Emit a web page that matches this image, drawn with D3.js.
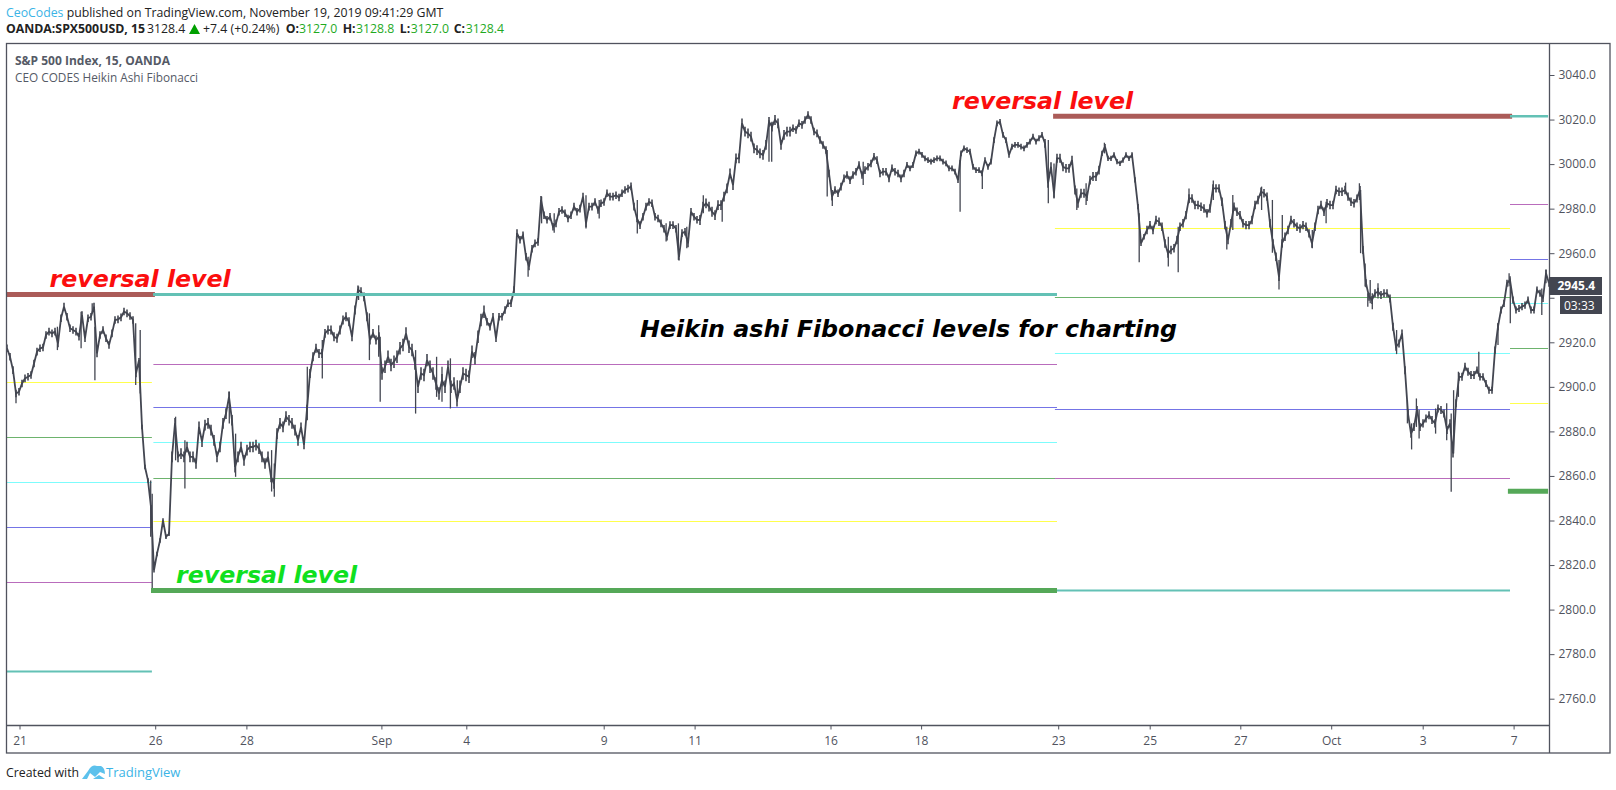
<!DOCTYPE html>
<html><head><meta charset="utf-8">
<script src="https://cdn.jsdelivr.net/npm/d3@7"></script>
<style>html,body{margin:0;padding:0;background:#fff;overflow:hidden}svg{display:block}</style>
</head><body><div id="chart"></div>
<script>
// Price samples, one every bar-step
const closeA = [2917.3,2913.5,2907.5,2897,2897.8,2901.5,2903.8,2904.5,2905.3,2910.5,2915.8,2917.3,2917.7,2923.3,2924.8,2924,2924.8,2919.5,2930.8,2936,2931.5,2926.3,2925.5,2924.8,2922.5,2932.2,2921.8,2930.8,2931.5,2936,2915,2923.3,2925.5,2921.8,2918.8,2924,2930,2930.3,2931.2,2933.8,2933,2931.8,2930,2906,2912,2882,2864,2858,2846,2817.7,2825,2831,2840,2832.7,2834,2868.6,2883.6,2868.6,2870,2868.6,2873,2868.6,2868.6,2865.6,2882,2875.4,2882.8,2883.6,2880.6,2876,2868.6,2873,2883.6,2888,2895.5,2885,2864,2868.6,2873,2867,2871.6,2873,2873,2873.8,2872.3,2868.6,2865.6,2868.6,2859.6,2856.6,2879,2883.6,2882,2886.6,2885,2883.6,2880.6,2876];
const closeB = [2882,2874,2890,2906,2913.5,2917.3,2915,2915,2924,2925.5,2925.5,2922.5,2921.8,2925.5,2930,2931.5,2929.2,2922.5,2934.5,2943.5,2942.7,2940.4,2931.5,2921,2924,2921,2922.5,2906,2909,2913.5,2909.8,2911.3,2913.5,2917.3,2918.8,2924,2918,2916.5,2910.5,2900,2906,2905.3,2912,2909,2906,2901.5,2897,2903,2900,2909,2900,2901.5,2894,2900,2906,2905.3,2904.5,2915.8,2912.8,2922.5,2930,2933.7,2929.2,2927,2931.5,2921.8,2931.5,2931.5,2934.5,2937.5,2937.5,2943.5,2969,2966,2968,2958.4,2954,2962,2964.4,2965,2984,2977,2975,2976.4,2971.9,2973.4,2978.6,2979.4,2977.9,2975.6,2977,2980.9,2978.6,2980,2985.4,2973.4,2980.9,2980.9,2983,2979.4,2982.4,2983,2986.9,2985.4,2985.4,2986,2985,2986.9,2988.4,2989,2990,2980.9,2975.6,2972.6,2976.4,2980.9,2983,2982.4,2976.4,2975.6,2973.4,2971,2967.4,2972.6,2972.6,2971,2958.4,2969,2969.6,2964.4,2978.6,2976.4,2975];
const closeC = [2974.9,2980.9,2982.4,2980.9,2978.6,2977.1,2981.6,2981.6,2985.4,2989.1,2995.8,2990.6,3002.6,3002.6,3018.3,3014.6,3013.8,3012.3,3007.1,3006.3,3004.8,3004.1,3008.6,3019,3016.8,3019.8,3018.3,3008.6,3013.1,3014.6,3014.6,3016.1,3015.3,3018.3,3017.6,3019.8,3022,3019.8,3014.6,3013.8,3010.8,3008.6,3006.3,2995.8,2985.4,2988.4,2986.9,2989.9,2993.6,2995.1,2992.8,2995.1,2996.6,2999.6,2995.1,2997.3,2998.8,3000.3,3003.3,3001.8,2995.8,2996.6,2996.6,2993.6,2998.1,2996.6,2995.8,2993.6,2995.8,2999.6,2998.1,2999.6,3004.8,3005.6,3004.1,3002.6,3001.8,3001.1,3001.8,3002.6,3002.6,3001.1,3000.3,2998.1,2998.1,2996.6,2992.8,3004.8,3007.1,3006.3,3005.6,2998.8,2997.3,2997.3,2995.8,3001.8,2998.8,3001.1,3010.8,3018.3,3019,3013.1,3010.8,3004.1,3007.8,3008.6,3008.6,3007.8,3007.1,3008.6,3010.1,3012.3,3010.1,3011.6,3013.1,3009.3,2991.4,2998.8,2986.9,3002.6,3002.6,2998.8,2998.1,2998.1,3001.8,2988.4,2982.4,2986.9,2986.9,2985.4,2992.8,2994.4,2994.4,2997.3];
const closeD = [3004.8,3007.8,3002.6,3002.6,3004.1,3001.1,3000.3,3001.8,3004.1,3002.6,3004.1,2992.9,2980.9,2964.4,2967.4,2970.4,2972.6,2970.4,2974.9,2974.1,2971.9,2964.4,2959.9,2961.4,2962.2,2965.9,2971.9,2973.4,2977.1,2984.6,2984.6,2981.6,2981.6,2980.9,2980.1,2977.9,2980.1,2989.1,2989.1,2989.1,2983.1,2972.6,2965.9,2973.4,2980.9,2978.6,2977.1,2973.4,2972.6,2972.6,2974.9,2981.6,2983.9,2987.6,2986.9,2985.4,2973.4,2964.4,2958.4,2949.4,2964.4,2967.4,2970.4,2974.9,2973.4,2971.9,2971.1,2972.6,2971.9,2968.9,2964.4,2971.9,2979.4,2981.6,2978.6,2982.4,2981.6,2981.6,2988.4,2987.6,2987.6,2988.4,2985.4];
const closeE = [2983.1,2982.4,2984.6,2988.4,2961.4,2946.5,2940.5,2939,2942,2942.7,2941.2,2942,2942,2939.7,2927,2918,2919.5,2924,2907.5,2888,2879,2882,2889.6,2882,2883.6,2885.8,2887.3,2885.1,2883.6,2890.3,2889.6,2888,2880.6,2883.6,2870.1,2892.6,2904.5,2904.5,2909,2906.8,2905.3,2905.3,2907.5,2904.5,2904.5,2901.5,2898.5,2898.5,2916.5,2927,2934.5,2937.5,2946.5,2948,2939,2934.5,2935.2,2936,2936.7,2939,2934.5,2934.5,2943.5,2942,2939.7,2951,2946.5];
const segmentStarts = [0,98,231,365,448];
const lastBar = 514;

// Thickness of the price band by stretch of the chart: from bar, to bar, half-range in price
const bandSpread = [[0,44,1.7],[44,55,1],[55,98,2.4],[98,125,2],[125,160,2.8],[160,231,1.7],[231,262,2.2],[262,300,1.7],[300,346,1.3],[346,365,2],[365,380,1.2],[380,450,1.9],[450,490,1.8],[490,515,1.6]];

// Wicks: bar, high, low
const wicks = [[3,2897,2892.6],[16.8,2927,2916.5],[24.7,2933.7,2917.3],[28.4,2937.5,2933],[29.3,2927,2903],[42.9,2928.5,2900.8],[44.4,2925.5,2897],[47.9,2858,2832.7],[48.4,2852,2809.5],[56.2,2886.6,2867],[59.3,2876,2854.4],[74.1,2897.8,2883.6],[76.2,2879,2859.6],[88.2,2871.6,2853],[89.1,2865.6,2850.7],
[100.1,2909,2885],[105.1,2921,2903.8],[117.2,2945,2939],[120.8,2933,2912],[123.9,2927.7,2913.5],[124.4,2922.5,2893.3],[136.2,2916.5,2888],[143.2,2913.5,2895.5],[145,2909,2893.3],[147.8,2912.8,2890.3],[150.1,2903,2893.3],[173.7,2958.4,2949.4],[178.2,2985.4,2973.4],[182.4,2977.9,2969.2],[193,2986,2971.1],[197.4,2983.9,2975.6],[210.1,2983.9,2968.9],[219.7,2973.4,2965.2],[223.8,2973.4,2957],[226.6,2971.9,2962.2],
[232.1,2986,2977.9],[238.4,2983.1,2974.1],[254,3019.8,3001.1],[254.9,3018.3,3001.1],[273.4,3006.3,2985.4],[275.1,2988.4,2981.2],[285.4,3001.1,2990.6],[317.7,3001.8,2978.6],[325.1,2997.3,2988.8],[347.1,3010.8,2982.4],[349,3000.3,2984.6],[356.6,2989,2979.4],[359.7,2991.4,2981.6],
[365.8,3009.6,3004.8],[377.4,2977.9,2955.9],[387.1,2967.4,2954],[390.4,2971.9,2951.4],[394,2989.1,2982.4],[402.1,2992.6,2983.9],[406.6,2971.9,2961.7],[408.6,2986.1,2970.4],[418.2,2989.9,2979.4],[421.8,2983.9,2960.2],[424,2956.9,2943.7],[425.1,2977.1,2962.9],[435.1,2970.4,2962.2],[439.7,2983.1,2973.4],[446.2,2991.7,2986.9],
[450.8,2991.4,2983.9],[451.2,2988.4,2960],[452.7,2955.4,2945],[453.6,2942,2936],[454.4,2948,2937.5],[455.1,2942,2934.8],[457,2946.5,2939.7],[463.2,2925.5,2914.7],[466.8,2894,2883.6],[468.2,2883.6,2871.9],[469.8,2894.8,2882],[470.7,2889.6,2876.8],[476.2,2890.3,2879],[479.9,2892.6,2876],[481.4,2888,2852.9],[482.2,2898.5,2870.1],[483.8,2906.8,2895.5],[490.6,2915.8,2904.5],[497,2928.5,2918.8],[500.7,2951,2945],[501.1,2945,2928.5],[511.6,2944.2,2932.2],[513,2952.7,2946.5]];

// Fibonacci level segments: start bar, end bar, price levels
const spanA = [0,48.3];
const levelsA = [2902,2877.3,2857.1,2837.3,2812.6,2772.4];
const spanB = [48.8,350];
const levelsB = [2910.1,2890.8,2875.1,2859.3,2840];
const spanC = [349.3,501];
const levelsC = [2971.2,2940.2,2915,2889.9,2859,2808.6];
const spanD = [501,513.7];
const levelsD = [2982,2957.3,2937.5,2917.3,2892.6];
const levelKindA = ["yellow","green","cyan","blue","purple","teal"];
const levelKindB = ["purple","blue","cyan","green","yellow"];
const levelKindC = ["yellow","green","cyan","blue","purple","teal"];
const levelKindD = ["purple","blue","cyan","green","yellow"];
const levelColors = {yellow:"#ffff4d",green:"#6db36d",cyan:"#7dfcfc",blue:"#7474e6",purple:"#b96cbc",teal:"#63c1b5"};
// Heavy levels: start, end, price, colour, weight
const heavy = [
 [0,49.3,2941.5,"#ab5b58",5],
 [48.7,350,2941.5,"#63c1b5",3],
 [48,350,2808.6,"#55a858",5],
 [348.7,501.7,3021.5,"#ab5b58",5],
 [501,513.7,3021.5,"#63c1b5",2.5],
 [500.3,513.7,2853.1,"#55a858",5]
];

const priceTicks = [3040,3020,3000,2980,2960,2940,2920,2900,2880,2860,2840,2820,2800,2780,2760];
const hiddenPriceLabel = 2940; // sits behind the last-price tags in the reference
const timeTickBars = [4.17,49.4,79.8,124.8,153.1,198.9,229.2,274.5,304.7,350.4,380.9,411.1,441.4,471.9,502.2];
const timeTickLabels = ["21","26","28","Sep","4","9","11","16","18","23","25","27","Oct","3","7"];
const lastPrice = 2945.4;

const W=1616,H=790;
const plot={l:7,r:1549,t:43,b:725,outerR:1610,outerB:753};
const x=d3.scaleLinear().domain([0,lastBar]).range([plot.l,plot.r]);
const y=d3.scaleLinear().domain([3040,2760]).range([75,698.7]);
const FONT='"Open Sans","Noto Sans",sans-serif';
const axisCol="#50535e";

const svg=d3.select("#chart").append("svg").attr("width",W).attr("height",H).style("font-family",FONT);
svg.append("defs").append("clipPath").attr("id","clip").append("rect")
 .attr("x",plot.l).attr("y",plot.t).attr("width",plot.r-plot.l).attr("height",plot.b-plot.t);

// levels
const lv=svg.append("g").attr("clip-path","url(#clip)");
[[spanA,levelsA,levelKindA],[spanB,levelsB,levelKindB],[spanC,levelsC,levelKindC],[spanD,levelsD,levelKindD]].forEach(([s,l,k])=>{
  l.forEach((v,i)=>{
    lv.append("line").attr("x1",x(s[0])).attr("x2",x(s[1])).attr("y1",Math.round(y(v))+.5).attr("y2",Math.round(y(v))+.5)
      .attr("stroke",levelColors[k[i]]).attr("stroke-width",k[i]==="teal"?2:1);
  });
});

// price
const pts=[];
[closeA,closeB,closeC,closeD,closeE].forEach((arr,k)=>arr.forEach((v,i)=>pts.push([segmentStarts[k]+i,v])));
const spreadAt=b=>{const s=bandSpread.find(r=>b>=r[0]&&b<r[1]);return s?s[2]:1.5;};
const pg=svg.append("g").attr("clip-path","url(#clip)");
pg.append("path").attr("d",d3.line().x(d=>x(d[0])).y(d=>y(d[1]))(pts))
  .attr("fill","none").attr("stroke","#434651").attr("stroke-width",1.8).attr("stroke-linejoin","miter").attr("stroke-miterlimit",3);
pg.selectAll("line.r").data(pts).join("line").attr("class","r")
  .attr("x1",d=>x(d[0])).attr("x2",d=>x(d[0]))
  .attr("y1",d=>y(d[1]+spreadAt(d[0]))).attr("y2",d=>y(d[1]-spreadAt(d[0])))
  .attr("stroke","#434651").attr("stroke-width",1.6);
pg.selectAll("line.w").data(wicks).join("line").attr("class","w")
  .attr("x1",d=>x(d[0])).attr("x2",d=>x(d[0])).attr("y1",d=>y(d[1])).attr("y2",d=>y(d[2]))
  .attr("stroke","#434651").attr("stroke-width",1.3);

// heavy levels
svg.append("g").selectAll("line").data(heavy).join("line")
  .attr("x1",d=>x(d[0])).attr("x2",d=>x(d[1])).attr("y1",d=>y(d[2])).attr("y2",d=>y(d[2]))
  .attr("stroke",d=>d[3]).attr("stroke-width",d=>d[4]);

// frame
const frame=svg.append("g").attr("stroke",axisCol).attr("stroke-width",1.3).attr("fill","none");
frame.append("rect").attr("x",6.5).attr("y",43.5).attr("width",plot.outerR-6.5).attr("height",plot.outerB-43.5);

// axes
const yAxis=svg.append("g").attr("transform",`translate(${plot.r+.5},0)`)
  .call(d3.axisRight(y).tickValues(priceTicks).tickSize(5).tickPadding(4).tickFormat(d=>d===hiddenPriceLabel?"":d3.format(".1f")(d)));
const xAxis=svg.append("g").attr("transform",`translate(0,${plot.b+.5})`)
  .call(d3.axisBottom(x).tickValues(timeTickBars).tickSize(4).tickPadding(7).tickFormat((d,i)=>timeTickLabels[i]));
[yAxis,xAxis].forEach(a=>{
  a.style("font-family",FONT).style("font-size","12px");
  a.selectAll("path").attr("stroke",axisCol).attr("stroke-width",1.3);
  a.selectAll("line").attr("stroke",axisCol);
  a.selectAll("text").attr("fill",axisCol);
});
yAxis.select("path").attr("d",`M0,${plot.t}V${plot.outerB}`);
xAxis.select("path").attr("d",`M${plot.l},0H${plot.r}`);

// last price tags
const tagY=y(lastPrice);
svg.append("rect").attr("x",plot.r).attr("y",277).attr("width",53).attr("height",18).attr("fill","#434651");
svg.append("text").attr("x",1557.5).attr("y",tagY+.5).attr("dy","0.35em").attr("fill","#fff").attr("font-size",12).attr("font-weight",700).text(lastPrice.toFixed(1));
svg.append("rect").attr("x",1560).attr("y",296).attr("width",42).attr("height",18).attr("fill","#434651");
svg.append("text").attr("x",1564).attr("y",309.5).attr("fill","#fff").attr("font-size",12).text("03:33");

// annotations
const note=(t,a,b,c,col)=>svg.append("text").attr("x",a).attr("y",b).attr("fill",col)
  .attr("font-family","'DejaVu Sans'").attr("font-weight",700).attr("font-style","italic")
  .attr("font-size",c).text(t);
note("reversal level",49.5,286.5,23.7,"#fb0e0e");
note("reversal level",176,582.5,23.7,"#10e01f");
note("reversal level",952,108.8,23.7,"#fb0e0e");
note("Heikin ashi Fibonacci levels for charting",640,337,23.75,"#000");

// titles
svg.append("text").attr("x",15).attr("y",65).attr("fill","#555a66").attr("font-size",12).attr("font-weight",700).text("S&P 500 Index, 15, OANDA");
svg.append("text").attr("x",15).attr("y",82).attr("fill","#555a66").attr("font-size",11.8).text("CEO CODES Heikin Ashi Fibonacci");

// header
const hs=12.3;
const h1=svg.append("text").attr("x",6).attr("y",17.3).attr("font-size",hs).attr("fill","#222");
h1.append("tspan").attr("fill","#3bb4e6").text("CeoCodes");
h1.append("tspan").text(" published on TradingView.com, November 19, 2019 09:41:29 GMT");
const put=(t,a,w,c)=>svg.append("text").attr("x",a).attr("y",33.3).attr("font-size",hs).attr("font-weight",w).attr("fill",c).text(t);
put("OANDA:SPX500USD, 15",6,700,"#222");
put("3128.4",147,400,"#222");
put("+7.4 (+0.24%)",203,400,"#222");
[["O:",285.7,"3127.0",299],["H:",342.7,"3128.8",356],["L:",399.7,"3127.0",410.7],["C:",453.7,"3128.4",465.7]].forEach(d=>{
  put(d[0],d[1],700,"#222");
  put(d[2],d[3],400,"#1faa1f");
});
svg.append("path").attr("d","M189,34 L194.500,24 L200,34 Z").attr("fill","#00a000");

// footer
svg.append("text").attr("x",6).attr("y",777).attr("font-size",12.3).attr("fill","#222").text("Created with");
svg.append("path").attr("fill","#5cc1ec")
  .attr("d","M82,779 L88,771 Q92,764 97,766 L101,766 Q105,768 105,774 L100,772 L95,777 L90,773 L87,779 Z M93,779 L99,775 L105,779 Z");
svg.append("text").attr("x",106).attr("y",777).attr("font-size",13).attr("fill","#3bb4e6").text("TradingView");
</script></body></html>
